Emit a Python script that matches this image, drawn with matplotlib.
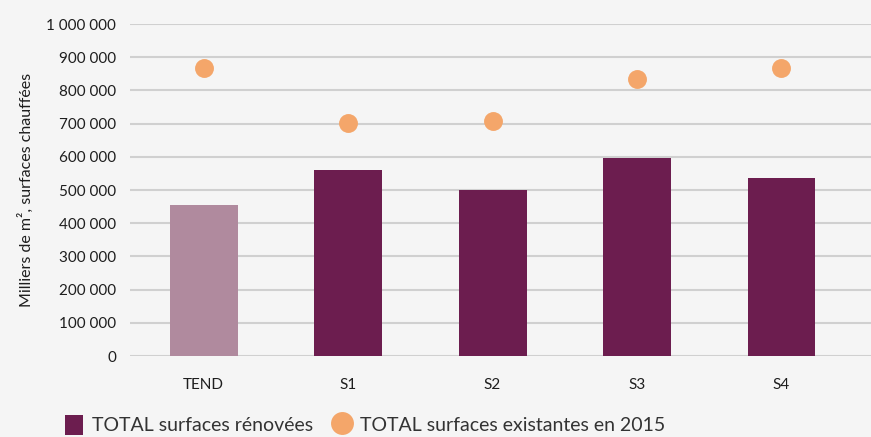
import matplotlib
matplotlib.use("Agg")
import matplotlib.pyplot as plt
from matplotlib.lines import Line2D
from matplotlib.patches import Patch
from matplotlib.ticker import FuncFormatter

# Données (milliers de m2)
scenarios = ["TEND", "S1", "S2", "S3", "S4"]
surfaces_renovees = [455000, 560000, 500000, 597000, 537000]
surfaces_existantes = [867000, 703000, 708000, 835000, 868000]
yticks = [0, 100000, 200000, 300000, 400000, 500000, 600000, 700000, 800000, 900000, 1000000]

violet = "#6c1d4f"
violet_clair = "#b08a9e"
orange = "#f4a66a"
fond = "#f5f5f5"

plt.rcParams["font.family"] = ["Lato", "DejaVu Sans"]

fig = plt.figure(figsize=(8.71, 4.37), dpi=100, facecolor=fond)
ax = fig.add_axes([130 / 871, 81 / 437, 741 / 871, 332 / 437])
ax.set_facecolor(fond)

couleurs = [violet_clair] + [violet] * (len(scenarios) - 1)
x = list(range(len(scenarios)))
ax.bar(x, surfaces_renovees, width=0.47, color=couleurs, zorder=2)
ax.scatter(x, surfaces_existantes, s=185, color=orange, zorder=3, linewidths=0)

ax.set_xlim(-0.51, 4.62)
ax.set_ylim(0, 1000000)
ax.set_yticks(yticks)
ax.yaxis.set_major_formatter(FuncFormatter(lambda v, p: f"{int(v):,}".replace(",", " ")))
ax.set_xticks(x)
ax.set_xticklabels(scenarios)
ax.grid(axis="y", color="#d0d0d0", linewidth=1.5, zorder=0)
ax.set_axisbelow(True)
ax.tick_params(axis="both", length=0, labelsize=11, colors="#1e1e1e")
ax.tick_params(axis="y", pad=10)
ax.tick_params(axis="x", pad=16)
for s in ax.spines.values():
    s.set_visible(False)

ax.set_ylabel("Milliers de m², surfaces chauffées", fontsize=11.5, color="#1e1e1e", labelpad=9)

handles = [
    Patch(facecolor=violet, edgecolor="none"),
    Line2D([], [], marker="o", linestyle="", markersize=16.5, markerfacecolor=orange, markeredgewidth=0),
]
fig.legend(handles, ["TOTAL surfaces rénovées", "TOTAL surfaces existantes en 2015"],
           loc="lower left", bbox_to_anchor=(47 / 871, -0.035), ncol=2, frameon=False,
           fontsize=14, handlelength=0.95, handleheight=1.2, handletextpad=0.45,
           columnspacing=1.0, labelcolor="#333333")

fig.savefig("out.png", dpi=100, facecolor=fond)
